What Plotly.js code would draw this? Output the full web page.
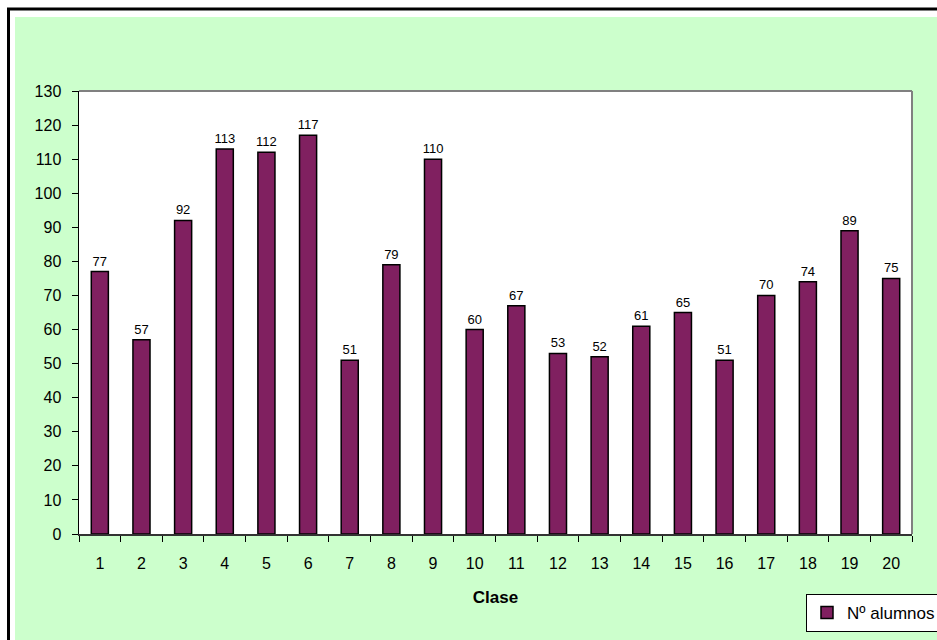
<!DOCTYPE html>
<html>
<head>
<meta charset="utf-8">
<script src="https://cdn.plot.ly/plotly-3.0.1.min.js"></script>
<style>html,body{margin:0;padding:0;background:#fff;}#chart{width:937px;height:640px;}</style>
</head>
<body>
<div id="chart"></div>
<script>
var clases = ["1","2","3","4","5","6","7","8","9","10","11","12","13","14","15","16","17","18","19","20"];
var alumnos = [77,57,92,113,112,117,51,79,110,60,67,53,52,61,65,51,70,74,89,75];
var seriesName = "Nº alumnos";
var xTitle = "Clase";
var yTicks = [0,10,20,30,40,50,60,70,80,90,100,110,120,130];

var FONT = "Liberation Sans, Arial, sans-serif";
var W = 937, H = 640, L = 79, R = 912, T = 91, B = 534;
var pw = R - L, ph = B - T;
function px(x){ return (x - L) / pw; }
function py(y){ return (B - y) / ph; }

var trace = {
  type: "bar",
  x: clases,
  y: alumnos,
  name: seriesName,
  marker: {color: "#802060", line: {color: "#000000", width: 1.5}},
  text: alumnos.map(String),
  textposition: "outside",
  constraintext: "none",
  textfont: {family: FONT, size: 13, color: "#000"},
  cliponaxis: false,
  hoverinfo: "x+y"
};

var layout = {
  width: W, height: H,
  margin: {l: L, r: W - R, t: T, b: H - B, autoexpand: false},
  paper_bgcolor: "#CCFFCC",
  plot_bgcolor: "#FFFFFF",
  bargap: 0.59,
  showlegend: true,
  font: {family: FONT, color: "#000"},
  xaxis: {
    type: "category",
    range: [-0.5, 19.5],
    tickson: "boundaries",
    ticks: "outside", ticklen: 6, tickcolor: "#000", tickwidth: 1,
    showline: true, linecolor: "#333", linewidth: 2,
    showgrid: false, zeroline: false,
    tickfont: {family: FONT, size: 16, color: "#000"},
    ticklabelstandoff: 14,
    title: {text: "<b>" + xTitle + "</b>", font: {family: FONT, size: 17, color: "#000"}, standoff: 20},
    fixedrange: true
  },
  xaxis2: {
    type: "linear", overlaying: "x", anchor: "y", side: "bottom",
    range: [-0.5, 19.5], tick0: -0.5, dtick: 1,
    ticks: "inside", ticklen: 5, tickcolor: "#000", tickwidth: 1,
    showticklabels: false, showline: false, showgrid: false, zeroline: false
  },
  yaxis: {
    range: [0, 130],
    tickvals: yTicks,
    ticks: "outside", ticklen: 6, tickcolor: "#000", tickwidth: 1,
    showline: true, linecolor: "#000", linewidth: 1.5,
    showgrid: false, zeroline: false,
    tickfont: {family: FONT, size: 16, color: "#000"},
    ticklabelstandoff: 7,
    fixedrange: true
  },
  legend: {
    x: px(806), y: py(594), xanchor: "left", yanchor: "top",
    bgcolor: "#FFFFFF", bordercolor: "#000", borderwidth: 1,
    font: {family: FONT, size: 17, color: "#000"}
  },
  shapes: [
    {type: "rect", xref: "paper", yref: "paper", x0: -0.3, x1: px(15), y0: -0.5, y1: 1.5, fillcolor: "#FFFFFF", line: {width: 0}, layer: "above"},
    {type: "rect", xref: "paper", yref: "paper", x0: -0.3, x1: 1.5, y0: py(17), y1: 1.5, fillcolor: "#FFFFFF", line: {width: 0}, layer: "above"},
    {type: "line", xref: "paper", yref: "paper", x0: px(8.5), x1: px(8.5), y0: py(8), y1: -0.5, line: {color: "#000", width: 3}, layer: "above"},
    {type: "line", xref: "paper", yref: "paper", x0: px(7), x1: 1.5, y0: py(9), y1: py(9), line: {color: "#000", width: 3}, layer: "above"},
    {type: "line", xref: "paper", yref: "paper", x0: 0, x1: 1, y0: 1, y1: 1, line: {color: "#808080", width: 2}, layer: "above"},
    {type: "line", xref: "paper", yref: "paper", x0: 1, x1: 1, y0: 0, y1: 1, line: {color: "#808080", width: 2}, layer: "above"}
  ]
};

Plotly.newPlot("chart", [trace], layout, {displayModeBar: false, staticPlot: true});
</script>
</body>
</html>
